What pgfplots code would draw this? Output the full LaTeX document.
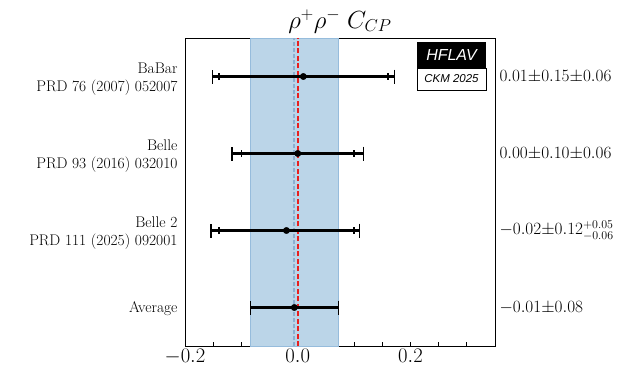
\documentclass[border=0pt]{standalone}
\usepackage{pgfplots}
\usepackage{pgfplotstable}
\pgfplotsset{compat=1.18}
\usepackage{fontspec}
\newfontfamily\logofont{Liberation Sans}
\definecolor{bandfill}{RGB}{187,213,232}
\definecolor{bandedge}{RGB}{150,188,220}
\definecolor{avgblue}{RGB}{140,175,208}
\definecolor{zerored}{RGB}{232,30,30}
\pgfplotstableread{
x y tm tp
0.01 3 0.1616 0.1616
0.00 2 0.1166 0.1166
-0.02 1 0.1342 0.1300
-0.006 0 0.078 0.078
}\tot
\pgfplotstableread{
x y sm sp
0.01 3 0.15 0.15
0.00 2 0.10 0.10
-0.02 1 0.12 0.12
}\stat
\pgfplotstableread{
x y
-0.007 -0.5
-0.007 3.5
}\avgl
\pgfplotstableread{
x y
0 -0.5
0 3.5
}\zerol
\begin{document}
\begin{tikzpicture}[x=1bp,y=1bp]
\useasboundingbox (0,0) rectangle (623,381);
\begin{axis}[at={(185bp,35bp)}, anchor=south west, scale only axis,
  width=310bp, height=308bp,
  xmin=-0.2, xmax=0.35, ymin=-0.5, ymax=3.5,
  ytick=\empty, xtick={-0.2,0,0.2}, xticklabels={$-0.2$,$0.0$,$0.2$},
  minor xtick={-0.15,-0.1,-0.05,0.05,0.1,0.15,0.25,0.3},
  xtick pos=bottom, tick align=inside,
  major tick length=4.5bp, minor tick length=4.5bp,
  every tick/.style={black, line width=0.8bp},
  axis line style={line width=0.8bp},
  xticklabel style={font=\fontsize{20.5}{24}\selectfont},
  clip mode=individual]
\addplot[fill=bandfill, draw=bandedge, line width=0.8bp] coordinates {(-0.084,-0.5) (0.072,-0.5) (0.072,3.5) (-0.084,3.5)} -- cycle;
\addplot[avgblue, line width=1.9bp, dash pattern=on 4bp off 2bp, mark=none] table[x=x,y=y]{\avgl};
\addplot[zerored, line width=1.9bp, dash pattern=on 5bp off 2.5bp, mark=none] table[x=x,y=y]{\zerol};
\addplot[black, only marks, mark=none, error bars/.cd, x dir=both, x explicit, error mark=|,
  error bar style={line width=2.2bp, black}, error mark options={line width=1.4bp, mark size=3.5bp, black}]
  table[x=x, y=y, x error plus=sp, x error minus=sm]{\stat};
\addplot[black, only marks, mark=none, error bars/.cd, x dir=both, x explicit, error mark=|,
  error bar style={line width=2.2bp, black}, error mark options={line width=1.4bp, mark size=7bp, black}]
  table[x=x, y=y, x error plus=tp, x error minus=tm]{\tot};
\addplot[black, only marks, mark=*, mark size=3.2bp] table[x=x, y=y]{\tot};
\begin{scope}[font=\fontsize{15.5}{18}\selectfont]
\node[anchor=east, align=right, xshift=-4bp, yshift=-3bp] at (axis cs:-0.2,3) {BaBar\\PRD 76 (2007) 052007};
\node[anchor=east, align=right, xshift=-4bp, yshift=-3bp] at (axis cs:-0.2,2) {Belle\\PRD 93 (2016) 032010};
\node[anchor=east, align=right, xshift=-4bp, yshift=-3bp] at (axis cs:-0.2,1) {Belle 2\\PRD 111 (2025) 092001};
\node[anchor=east, align=right, xshift=-4bp, yshift=-1bp] at (axis cs:-0.2,0) {Average};
\end{scope}
\begin{scope}[font=\fontsize{16.5}{19}\selectfont]
\node[anchor=west, xshift=1bp] at (axis cs:0.35,3) {$0.01{\pm}0.15{\pm}0.06$};
\node[anchor=west, xshift=1bp] at (axis cs:0.35,2) {$0.00{\pm}0.10{\pm}0.06$};
\node[anchor=west, xshift=1bp] at (axis cs:0.35,1) {$-0.02{\pm}0.12^{+0.05}_{-0.06}$};
\node[anchor=west, xshift=1bp] at (axis cs:0.35,0) {$-0.01{\pm}0.08$};
\end{scope}
\end{axis}
\fill[black] (417,313) rectangle (486,339);
\draw[black, line width=0.8bp, fill=white] (417,291) rectangle (486,313);
\node[white, font=\logofont\itshape\fontsize{16}{18}\selectfont] at (451.5,326) {HFLAV};
\node[font=\logofont\itshape\fontsize{11.5}{13}\selectfont] at (451.5,302) {CKM 2025};
\node[font=\fontsize{23}{27}\selectfont, anchor=base] at (340,353) {$\rho^+\rho^-\ C_{CP}$};
\end{tikzpicture}
\end{document}
